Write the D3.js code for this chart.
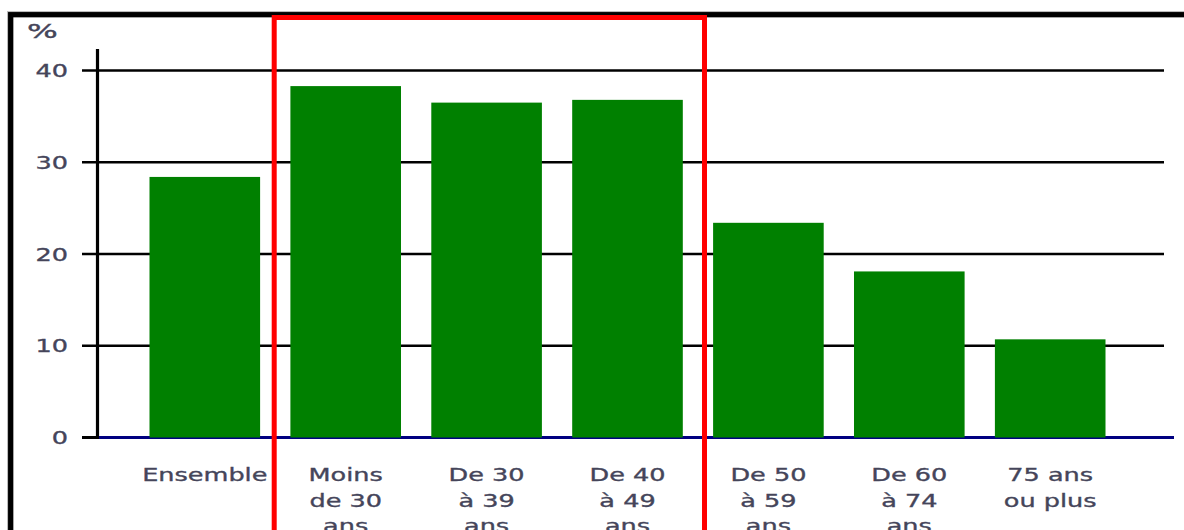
<!DOCTYPE html>
<html>
<head>
<meta charset="utf-8">
<script src="https://cdn.jsdelivr.net/npm/d3@7"></script>
<style>
  html, body { margin: 0; padding: 0; background: #fff; }
  svg { display: block; }
  .lbl { font-family: "DejaVu Sans", Verdana, sans-serif; font-size: 18px; fill: #45455a; stroke: #45455a; stroke-width: 0.35; }
</style>
</head>
<body>
<svg id="chart" width="1184" height="530"></svg>
<script>
// Share (%) by age group
const categories = ["Ensemble", "Moins\nde 30\nans", "De 30\nà 39\nans", "De 40\nà 49\nans", "De 50\nà 59\nans", "De 60\nà 74\nans", "75 ans\nou plus"];
const values = [28.4, 38.3, 36.5, 36.8, 23.4, 18.1, 10.7];
const yTicks = [0, 10, 20, 30, 40];
const unitLabel = "%";

const svg = d3.select("#chart");
const W = 1184, H = 530;
const stretch = 1.42; // wide lettering

const x = d3.scaleBand().domain(categories).range([134, 1121]).paddingInner(0.215).paddingOuter(0.11);
const y = d3.scaleLinear().domain([0, 40]).range([437.5, 70.5]);

// outer frame
svg.append("rect").attr("x", 7.5).attr("y", 11.5).attr("width", W + 20).attr("height", H + 20)
  .attr("fill", "none").attr("stroke", "#bbb").attr("stroke-width", 1);
svg.append("rect").attr("x", 10.7).attr("y", 14.7).attr("width", W + 20).attr("height", H + 20)
  .attr("fill", "none").attr("stroke", "#000").attr("stroke-width", 5.3);

// gridlines
const grid = svg.append("g");
grid.selectAll("line").data(yTicks.filter(d => d > 0)).join("line")
  .attr("x1", 82).attr("x2", 1164)
  .attr("y1", d => y(d)).attr("y2", d => y(d))
  .attr("stroke", "#000").attr("stroke-width", 2.7);
// tick stub at zero
svg.append("line").attr("x1", 82).attr("x2", 98).attr("y1", y(0)).attr("y2", y(0))
  .attr("stroke", "#000").attr("stroke-width", 3);

// y axis line
svg.append("line").attr("x1", 97.5).attr("x2", 97.5).attr("y1", 49).attr("y2", y(0) + 1.5)
  .attr("stroke", "#000").attr("stroke-width", 3.2);

// baseline
svg.append("line").attr("x1", 99).attr("x2", 1174).attr("y1", y(0)).attr("y2", y(0))
  .attr("stroke", "#000080").attr("stroke-width", 3);

// bars
svg.append("g").selectAll("rect").data(categories).join("rect")
  .attr("x", d => x(d))
  .attr("width", x.bandwidth())
  .attr("y", (d, i) => y(values[i]))
  .attr("height", (d, i) => y(0) - y(values[i]))
  .attr("fill", "#008000");

// y tick labels
svg.append("g").selectAll("text").data(yTicks).join("text")
  .attr("class", "lbl")
  .attr("transform", d => `translate(68,${y(d) + 6.5}) scale(${stretch},1)`)
  .attr("text-anchor", "end")
  .text(d => d);

// unit label
svg.append("text").attr("class", "lbl")
  .attr("transform", `translate(27,38) scale(1.8,1.1)`)
  .text(unitLabel);

// category labels
const cat = svg.append("g").selectAll("g").data(categories).join("g")
  .attr("transform", d => `translate(${x(d) + x.bandwidth() / 2},481)`);
cat.each(function (d) {
  const g = d3.select(this);
  d.split("\n").forEach((line, k) => {
    g.append("text").attr("class", "lbl")
      .attr("transform", `translate(0,${k * 25.5}) scale(${stretch},1)`)
      .attr("text-anchor", "middle")
      .text(line);
  });
});

// highlight box around the under-50 groups
svg.append("rect").attr("x", 274.2).attr("y", 17.5).attr("width", 704.5 - 274.2).attr("height", H)
  .attr("fill", "none").attr("stroke", "#ff0000").attr("stroke-width", 5);
</script>
</body>
</html>
